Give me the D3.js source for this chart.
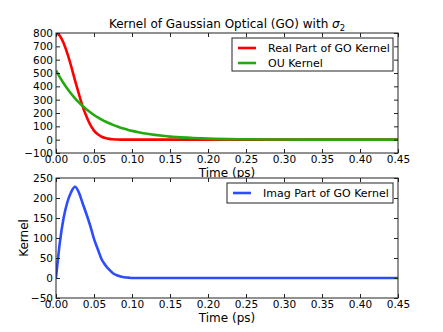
<!DOCTYPE html>
<html>
<head>
<meta charset="utf-8">
<script src="https://cdn.jsdelivr.net/npm/d3@7"></script>
<style>
  body { margin: 0; background: #fff; }
  svg { display: block; font-family: "DejaVu Sans", sans-serif; }
</style>
</head>
<body>
<div id="graph"></div>
<script>
// Time grid (ps) shared by all curves
const time = [0, 0.005, 0.01, 0.015, 0.02, 0.025, 0.03, 0.035, 0.04, 0.045,
	0.05, 0.055, 0.06, 0.065, 0.07, 0.075, 0.08, 0.085, 0.09, 0.095,
	0.10, 0.11, 0.12, 0.13, 0.14, 0.15, 0.16, 0.18, 0.20, 0.25, 0.30, 0.35, 0.40, 0.45];

// Values
const realPart = [800, 780, 725, 645, 550, 445, 345, 250, 175, 112,
	68, 40, 22, 12, 6, 3, 1, 0, 0, 0,
	0, 0, 0, 0, 0, 0, 0, 0, 0, 0, 0, 0, 0, 0];
const ouKernel = [520, 469, 423, 382, 344, 310, 280, 252, 228, 205,
	185, 167, 151, 136, 123, 111, 100, 90, 81, 73,
	66, 54, 44, 36, 29, 23, 19, 13, 8, 3, 1, 0, 0, 0];
const imagPart = [0, 88, 150, 190, 215, 228, 214, 187, 160, 131,
	98, 72, 47, 32, 21, 12, 7, 4, 2, 1,
	0, 0, 0, 0, 0, 0, 0, 0, 0, 0, 0, 0, 0, 0];

const xTicks = [0, 0.05, 0.1, 0.15, 0.2, 0.25, 0.3, 0.35, 0.4, 0.45];
const yTicksTop = [-100, 0, 100, 200, 300, 400, 500, 600, 700, 800];
const yTicksBottom = [-50, 0, 50, 100, 150, 200, 250];

const W = 443, H = 332;
const left = 56, right = 398;

const svg = d3.select('#graph').append('svg')
	.attr('width', W)
	.attr('height', H);

svg.append('rect').attr('width', W).attr('height', H).attr('fill', '#fff');

const x = d3.scaleLinear().domain([0, 0.45]).range([left, right]);

function panel(opts) {
	const y = d3.scaleLinear().domain(opts.yDomain).range([opts.bottom, opts.top]);
	const g = svg.append('g');

	g.append('rect')
		.attr('x', left).attr('y', opts.top)
		.attr('width', right - left).attr('height', opts.bottom - opts.top)
		.attr('fill', '#fff');

	const clipId = 'clip-' + opts.name;
	g.append('clipPath').attr('id', clipId)
		.append('rect')
		.attr('x', left).attr('y', opts.top)
		.attr('width', right - left).attr('height', opts.bottom - opts.top);

	const line = d3.line()
		.x((d, i) => x(time[i]))
		.y((d) => y(d))
		.curve(d3.curveMonotoneX);

	opts.series.forEach((s) => {
		g.append('path')
			.attr('clip-path', `url(#${clipId})`)
			.attr('d', line(s.values))
			.attr('fill', 'none')
			.attr('stroke', s.color)
			.attr('stroke-width', 2.6);
	});

	// axes with inward ticks on all four sides
	const fmtX = d3.format('.2f');
	const bottomAxis = g.append('g')
		.attr('transform', `translate(0, ${opts.bottom})`)
		.call(d3.axisBottom(x).tickValues(xTicks).tickSize(-4).tickPadding(3).tickFormat(fmtX));
	g.append('g')
		.attr('transform', `translate(0, ${opts.top})`)
		.call(d3.axisTop(x).tickValues(xTicks).tickSize(-4).tickFormat(''));
	const leftAxis = g.append('g')
		.attr('transform', `translate(${left}, 0)`)
		.call(d3.axisLeft(y).tickValues(opts.yTicks).tickSize(-4).tickPadding(3));
	g.append('g')
		.attr('transform', `translate(${right}, 0)`)
		.call(d3.axisRight(y).tickValues(opts.yTicks).tickSize(-4).tickFormat(''));

	g.selectAll('.domain').remove();
	g.selectAll('.tick line').attr('stroke', '#222');
	g.selectAll('.tick text')
		.attr('fill', '#000')
		.style('font-size', '10.5px')
		.style('font-family', '"DejaVu Sans", sans-serif');

	g.append('rect')
		.attr('x', left).attr('y', opts.top)
		.attr('width', right - left).attr('height', opts.bottom - opts.top)
		.attr('fill', 'none')
		.attr('stroke', '#222')
		.attr('stroke-width', 1);

	// legend
	const lg = opts.legend;
	g.append('rect')
		.attr('x', lg.x0).attr('y', lg.y0)
		.attr('width', lg.x1 - lg.x0).attr('height', lg.y1 - lg.y0)
		.attr('fill', '#fff')
		.attr('stroke', '#222')
		.attr('stroke-width', 1);
	opts.series.forEach((s, i) => {
		const yy = lg.rowY + i * 15;
		g.append('line')
			.attr('x1', lg.x0 + 6).attr('x2', lg.x0 + 24)
			.attr('y1', yy).attr('y2', yy)
			.attr('stroke', s.color)
			.attr('stroke-width', 2.6);
		g.append('text')
			.attr('x', lg.x0 + 36).attr('y', yy)
			.attr('dy', '0.36em')
			.style('font-size', '11px')
			.text(s.name);
	});

	// x label
	g.append('text')
		.attr('x', (left + right) / 2)
		.attr('y', opts.bottom + 23.5)
		.attr('text-anchor', 'middle')
		.style('font-size', '12px')
		.text('Time (ps)');

	return g;
}

panel({
	name: 'top', top: 33, bottom: 153,
	yDomain: [-100, 800], yTicks: yTicksTop,
	series: [
		{ name: 'Real Part of GO Kernel', values: realPart, color: '#ff0000' },
		{ name: 'OU Kernel', values: ouKernel, color: '#22aa0e' }
	],
	legend: { x0: 232, x1: 393, y0: 38, y1: 71, rowY: 48 }
});

panel({
	name: 'bottom', top: 178, bottom: 298,
	yDomain: [-50, 250], yTicks: yTicksBottom,
	series: [
		{ name: 'Imag Part of GO Kernel', values: imagPart, color: '#2e4cff' }
	],
	legend: { x0: 227, x1: 393, y0: 183, y1: 203, rowY: 193 }
});

// Title
const title = svg.append('text')
	.attr('x', (left + right) / 2)
	.attr('y', 28)
	.attr('text-anchor', 'middle')
	.style('font-size', '12px');
title.append('tspan').text('Kernel of Gaussian Optical (GO) with ');
title.append('tspan').style('font-style', 'italic').text('σ');
title.append('tspan').attr('dy', 3).style('font-size', '8.5px').text('2');

// Y label
svg.append('text')
	.attr('transform', 'translate(28, 238) rotate(-90)')
	.attr('text-anchor', 'middle')
	.style('font-size', '12px')
	.text('Kernel');
</script>
</body>
</html>
